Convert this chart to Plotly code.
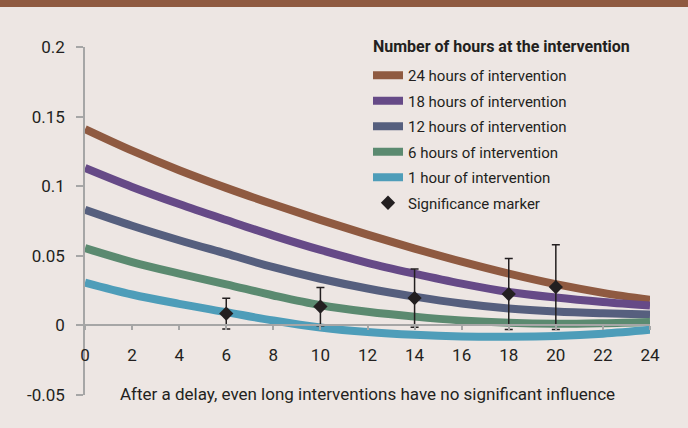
import plotly.graph_objects as go

hours = [0, 2, 4, 6, 8, 10, 12, 14, 16, 18, 20, 22, 24]
h24 = [0.141, 0.1255, 0.1115, 0.0988, 0.0870, 0.0758, 0.0652, 0.0552, 0.0458, 0.0372, 0.0296, 0.0234, 0.0184]
h18 = [0.1131, 0.0995, 0.0872, 0.0757, 0.0645, 0.0542, 0.0450, 0.0372, 0.0300, 0.0240, 0.0200, 0.0168, 0.0142]
h12 = [0.0831, 0.0716, 0.0612, 0.0515, 0.0418, 0.0335, 0.0265, 0.0207, 0.0158, 0.0122, 0.0100, 0.0087, 0.0078]
h6 = [0.0555, 0.0455, 0.0372, 0.0295, 0.0215, 0.0145, 0.0098, 0.0063, 0.0036, 0.0019, 0.0012, 0.0016, 0.0025]
h1 = [0.0308, 0.0222, 0.0155, 0.0095, 0.0035, -0.0015, -0.0048, -0.0068, -0.0079, -0.0081, -0.0076, -0.0060, -0.0032]

sig_x = [6, 10, 14, 18, 20]
sig_y = [0.0085, 0.0135, 0.0196, 0.0225, 0.0275]
sig_err = [0.011, 0.0137, 0.021, 0.0255, 0.0305]

series_names = ["24 hours of intervention", "18 hours of intervention", "12 hours of intervention",
                "6 hours of intervention", "1 hour of intervention"]
series_vals = [h24, h18, h12, h6, h1]
series_colors = ["#8F5A41", "#664A87", "#565F7E", "#5B8A70", "#4E9DB9"]

legend_title = "Number of hours at the intervention"
x_title = "After a delay, even long interventions have no significant influence"

y_tickvals = [0.2, 0.15, 0.1, 0.05, 0, -0.05]
y_ticktext = ["0.2", "0.15", "0.1", "0.05", "0", "-0.05"]
x_tickvals = list(range(0, 25, 2))

FONT = "Roboto, sans-serif"
TXT = "#231F20"
BG = "#EDE6E3"
AX = "#A6A6A6"

fig = go.Figure()
for i, (name, vals, col) in enumerate(zip(series_names, series_vals, series_colors)):
    fig.add_trace(go.Scatter(x=hours, y=vals, name=name, mode="lines", legendgroup=f"g{i}",
                             line=dict(color=col, width=8, shape="spline")))

fig.add_trace(go.Scatter(x=sig_x, y=sig_y, name="Significance marker", mode="markers",
                         legendgroup="g9",
                         marker=dict(symbol="diamond", size=11, color=TXT),
                         error_y=dict(type="data", array=sig_err, visible=True,
                                      color=TXT, thickness=1.5, width=4)))

W, H = 688, 428
ml, mr, mt, mb = 85, 38, 47, 33
ph = H - mt - mb
pw = W - ml - mr

fig.update_layout(
    width=W, height=H,
    margin=dict(l=ml, r=mr, t=mt, b=mb, autoexpand=False),
    paper_bgcolor=BG, plot_bgcolor=BG,
    font=dict(family=FONT, color=TXT, size=17),
    showlegend=True,
    legend=dict(
        font=dict(family=FONT, size=15, color=TXT),
        x=(368 - ml) / pw, xanchor="left",
        y=1 - (59 - mt) / ph, yanchor="top",
        bgcolor="rgba(0,0,0,0)", traceorder="grouped",
        itemwidth=30, tracegroupgap=3,
    ),
    annotations=[dict(text="<b>" + legend_title + "</b>", xref="paper", yref="paper",
                      x=(371 - ml) / pw, y=1 - (46 - mt) / ph, xanchor="left", yanchor="middle",
                      showarrow=False, font=dict(family=FONT, size=16, color=TXT))],
    xaxis=dict(
        range=[0, 24], tickvals=x_tickvals, showgrid=False, zeroline=False,
        showline=True, linecolor=AX, linewidth=1.5,
        ticks="outside", ticklen=4, tickcolor=AX, tickwidth=1.5,
        anchor="free", position=0.2,
        tickfont=dict(size=17), ticklabelstandoff=10,
        title=dict(text=x_title, font=dict(size=17), standoff=24),
    ),
    yaxis=dict(
        range=[-0.05, 0.2], tickvals=y_tickvals, ticktext=y_ticktext,
        showgrid=False, zeroline=False,
        showline=True, linecolor=AX, linewidth=1.5,
        ticks="outside", ticklen=7, tickcolor=AX, tickwidth=1.5,
        tickfont=dict(size=17), ticklabelstandoff=8,
    ),
    shapes=[dict(type="rect", xref="paper", yref="paper",
                 x0=-ml / pw - 0.01, x1=1 + mr / pw + 0.01,
                 y0=1 + (mt - 7) / ph, y1=1 + (mt + 5) / ph,
                 fillcolor="#8F5A41", line=dict(width=0), layer="above")],
)

fig.write_html("out.html", config={"displayModeBar": False},
               post_script="document.body.style.margin='0';document.body.style.overflow='hidden';"
                           "document.body.style.background='" + BG + "';")
